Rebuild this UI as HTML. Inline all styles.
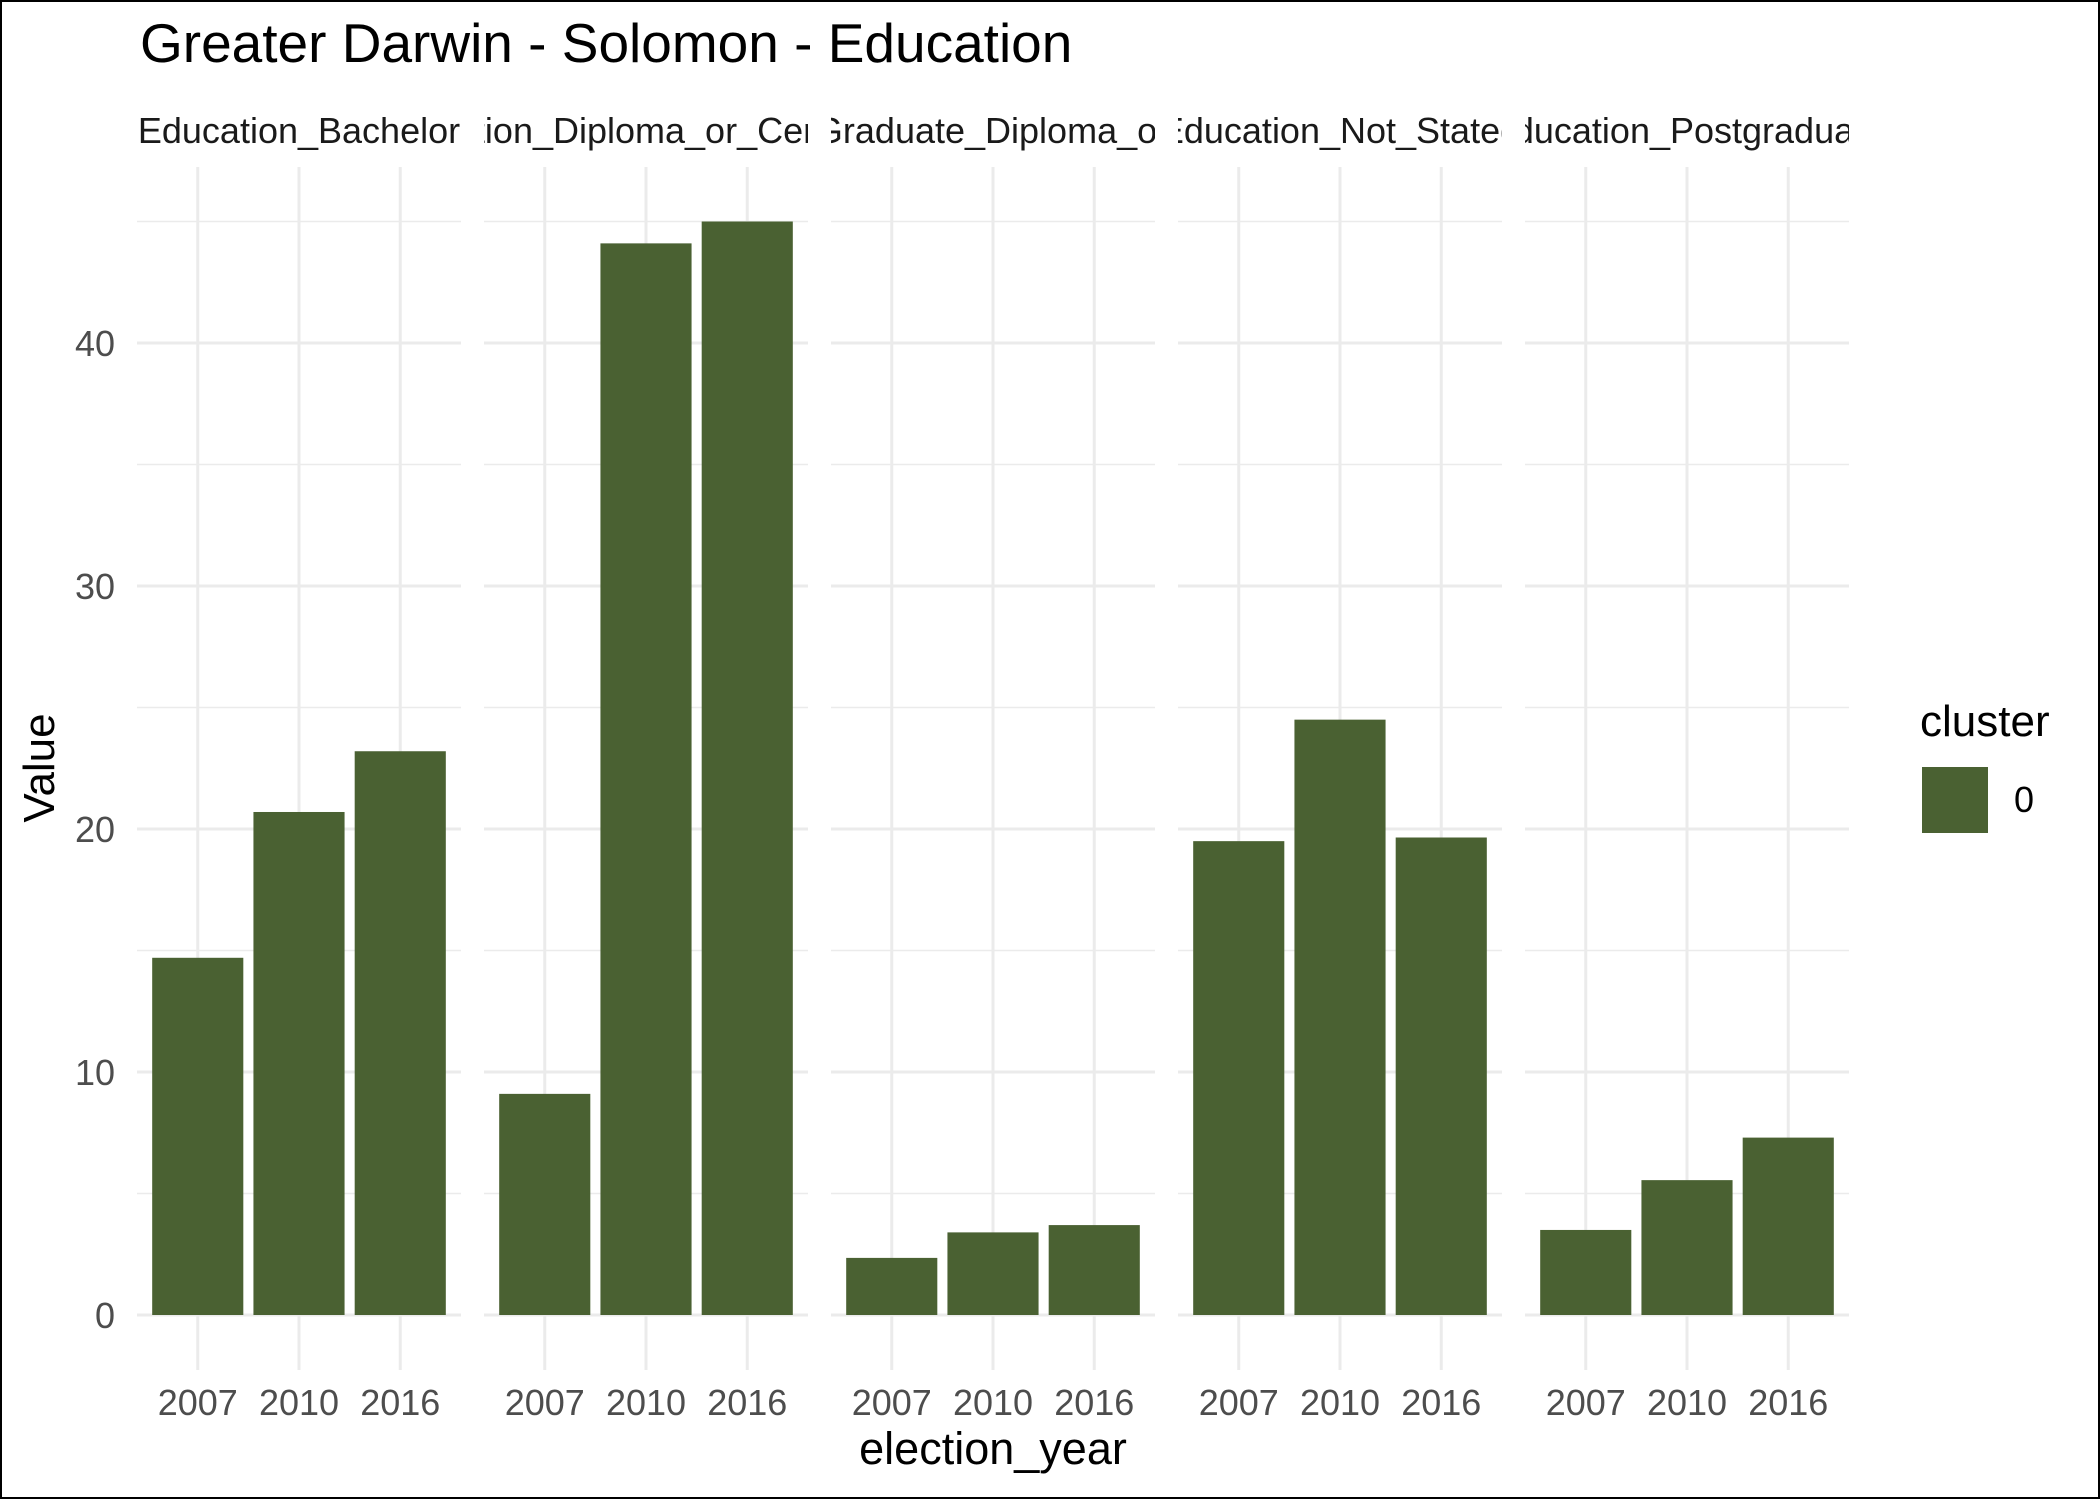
<!DOCTYPE html>
<html><head><meta charset="utf-8"><style>
html,body{margin:0;padding:0;background:#fff}
svg{display:block}
text{font-family:"Liberation Sans",Arial,sans-serif}
</style></head><body>
<svg id="chart" width="2100" height="1499" viewBox="0 0 2100 1499" xmlns="http://www.w3.org/2000/svg">
<rect x="1" y="1" width="2098" height="1497" fill="#fff" stroke="#000" stroke-width="2"/>
<text x="140" y="62" font-size="55" fill="#000">Greater Darwin - Solomon - Education</text>
<g id="panels"></g>
<text transform="translate(54,768) rotate(-90)" text-anchor="middle" font-size="44" fill="#000">Value</text>
<text x="993" y="1464" text-anchor="middle" font-size="45" fill="#000">election_year</text>
<g>
<text x="1920" y="736" font-size="44" fill="#000">cluster</text>
<rect x="1922" y="767" width="66" height="66" fill="#4a6132"/>
<text x="2014" y="812" font-size="36" fill="#000">0</text>
</g>
</svg>
<script>
const facets = ["Education_Bachelor","Education_Diploma_or_Certificate","Education_Graduate_Diploma_or_Certificate","Education_Not_Stated","Education_Postgraduate"];
const years = ["2007","2010","2016"];
const bachelor = [14.7, 20.7, 23.2];
const diploma = [9.1, 44.1, 45.0];
const graduate = [2.35, 3.4, 3.7];
const notStated = [19.5, 24.5, 19.65];
const postgrad = [3.5, 5.55, 7.3];
const yTicks = [0, 10, 20, 30, 40];
const yMinor = [5, 15, 25, 35, 45];

const series = [bachelor, diploma, graduate, notStated, postgrad];
const NS = "http://www.w3.org/2000/svg";
const panelW = 324, panelPitch = 347, panelX0 = 137, plotTop = 167, plotBottom = 1370;
const y0 = 1315, pxPerUnit = 24.3;
const yScale = v => y0 - v * pxPerUnit;
const unit = panelW / (years.length - 1 + 1.2);
const xScale = (p, i) => panelX0 + p * panelPitch + (0.6 + i) * unit;
const g = document.getElementById('panels');
function mk(tag, attrs, parent) {
  const e = document.createElementNS(NS, tag);
  for (const k in attrs) e.setAttribute(k, attrs[k]);
  parent.appendChild(e);
  return e;
}
const defs = mk('defs', {}, g);
facets.forEach((f, p) => {
  const px = panelX0 + p * panelPitch;
  const pg = mk('g', {}, g);
  
  
  yMinor.forEach(v => {
    const l = mk('line', {x1: px, x2: px + panelW, y1: yScale(v), y2: yScale(v), stroke: '#ebebeb', 'stroke-width': 1.5}, pg);
    
    
  });
  yTicks.forEach(v => {
    const l = mk('line', {x1: px, x2: px + panelW, y1: yScale(v), y2: yScale(v), stroke: '#ebebeb', 'stroke-width': 3}, pg);
    
    
  });
  years.forEach((yr, i) => {
    const cx = xScale(p, i);
    const l = mk('line', {x1: cx, x2: cx, y1: plotTop, y2: plotBottom, stroke: '#ebebeb', 'stroke-width': 3}, pg);
    
    
  });
  years.forEach((yr, i) => {
    const cx = xScale(p, i), bw = unit * 0.9, v = series[p][i];
    const r = mk('rect', {x: cx - bw / 2, y: yScale(v), width: bw, height: yScale(0) - yScale(v), fill: '#4a6132'}, pg);
    
    
    const t = mk('text', {x: cx, y: 1415, 'text-anchor': 'middle', 'font-size': 36, fill: '#4d4d4d'}, pg);
    t.textContent = yr;
    
    
  });
  const cp = mk('clipPath', {id: 'clip' + p}, defs);
  mk('rect', {x: px, y: 90, width: panelW, height: 70}, cp);
  const st = mk('text', {x: px + panelW / 2, y: 143, 'text-anchor': 'middle', 'font-size': 36, fill: '#1a1a1a', 'clip-path': 'url(#clip' + p + ')'}, pg);
  st.textContent = f;
  
  
});
yTicks.forEach(v => {
  const t = mk('text', {x: 115, y: yScale(v) + 13, 'text-anchor': 'end', 'font-size': 36, fill: '#4d4d4d'}, g);
  t.textContent = v;
  
  
});
</script>
</body></html>
